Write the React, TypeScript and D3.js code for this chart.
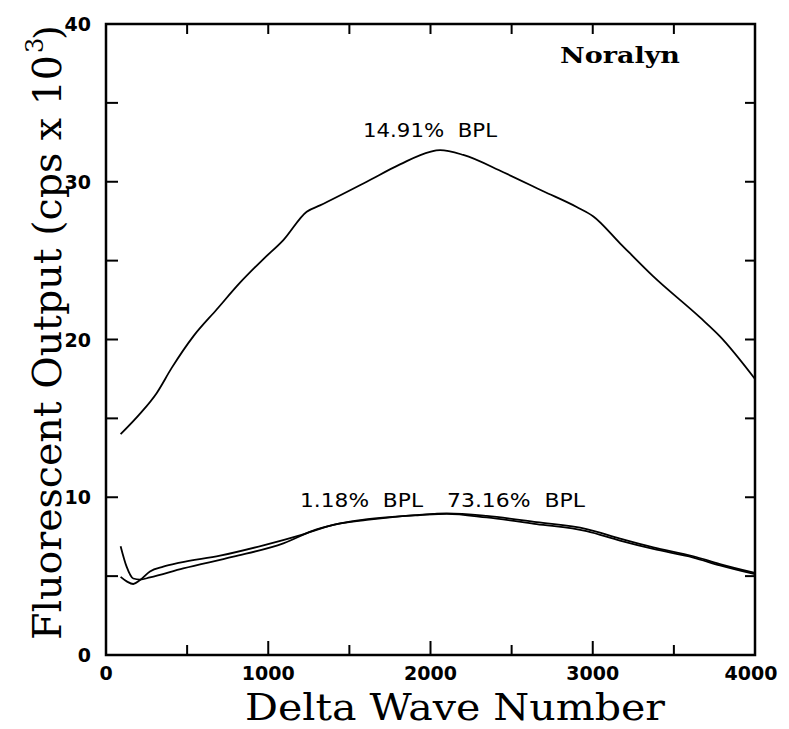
import React from 'react';
import { scaleLinear, line, curveMonotoneX, range } from 'd3';

const width = 789;
const height = 729;
const margin = { left: 106, right: 34, top: 24, bottom: 74 };

// delta wave number vs fluorescent output (cps x 1000)
const bpl1491X = [90, 210, 312, 405, 538, 682, 826, 970, 1093, 1237, 1319, 1607, 1812, 1997, 2059, 2202, 2449, 2695, 2901, 3004, 3168, 3373, 3661, 3784, 4000];
const bpl1491Y = [14.0, 15.3, 16.6, 18.2, 20.2, 21.9, 23.6, 25.1, 26.3, 28.1, 28.5, 30.0, 31.1, 31.9, 32.0, 31.7, 30.6, 29.4, 28.4, 27.8, 26.1, 24.0, 21.4, 20.2, 17.5];

const bpl118X = [90, 130, 168, 210, 271, 353, 456, 703, 970, 1200, 1401, 1607, 2017, 2100, 2346, 2654, 2962, 3168, 3373, 3620, 3784, 4000];
const bpl118Y = [4.95, 4.65, 4.5, 4.75, 5.3, 5.6, 5.85, 6.3, 6.95, 7.6, 8.25, 8.56, 8.94, 8.98, 8.82, 8.42, 7.98, 7.38, 6.82, 6.26, 5.76, 5.2];

const bpl7316X = [90, 127, 168, 210, 271, 476, 785, 1093, 1298, 1442, 1600, 1935, 2100, 2346, 2654, 2962, 3168, 3373, 3620, 3784, 4000];
const bpl7316Y = [6.9, 5.6, 4.85, 4.78, 4.92, 5.49, 6.23, 7.08, 7.97, 8.35, 8.6, 8.87, 8.95, 8.72, 8.3, 7.85, 7.25, 6.72, 6.18, 5.68, 5.12];

const xTickLabels = [0, 1000, 2000, 3000, 4000];
const yTickLabels = [0, 10, 20, 30, 40];

const curves = [
  { xs: bpl1491X, ys: bpl1491Y },
  { xs: bpl118X, ys: bpl118Y },
  { xs: bpl7316X, ys: bpl7316Y },
];

const x = scaleLinear().domain([0, 4000]).range([margin.left, width - margin.right]);
const y = scaleLinear().domain([0, 40]).range([height - margin.bottom, margin.top]);

const mono = "'DejaVu Serif', serif";
const tickFont = "'DejaVu Sans', sans-serif";

export default function App() {
  const path = line<[number, number]>()
    .x(d => x(d[0]))
    .y(d => y(d[1]))
    .curve(curveMonotoneX);

  const x0 = x(0), x1 = x(4000), y0 = y(0), y1 = y(40);
  const xMinor = range(0, 4001, 500);
  const yMinor = range(0, 41, 5);

  return (
    <svg width={width} height={height} style={{ position: 'absolute', left: 0, top: 0, background: '#fff' }}>
      {/* ticks, inward on all four sides */}
      <g stroke="#000" strokeWidth={2}>
        {xMinor.map(v => {
          const len = v % 1000 === 0 ? 14 : 10;
          return (
            <g key={'xt' + v}>
              <line x1={x(v)} x2={x(v)} y1={y0} y2={y0 - len} />
              <line x1={x(v)} x2={x(v)} y1={y1} y2={y1 + 10} />
            </g>
          );
        })}
        {yMinor.map(v => (
          <g key={'yt' + v}>
            <line x1={x0} x2={x0 + 12} y1={y(v)} y2={y(v)} />
            <line x1={x1} x2={x1 - 10} y1={y(v)} y2={y(v)} />
          </g>
        ))}
      </g>
      <rect x={x0} y={y1} width={x1 - x0} height={y0 - y1} fill="none" stroke="#000" strokeWidth={2.5} />

      {curves.map((c, i) => (
        <path key={i} d={path(c.xs.map((v, j) => [v, c.ys[j]] as [number, number])) || ''}
          fill="none" stroke="#000" strokeWidth={1.8} />
      ))}

      {/* tick labels */}
      <g fontFamily={tickFont} fontWeight="bold" fontSize={19} fill="#000">
        {xTickLabels.map(v => (
          <text key={'xl' + v} x={x(v) - (v === 4000 ? 4 : 0)} y={680} textAnchor="middle">{v}</text>
        ))}
        {yTickLabels.map(v => (
          <text key={'yl' + v} x={91} y={y(v) + 7} textAnchor="end">{v}</text>
        ))}
      </g>

      {/* axis titles */}
      <text x={245} y={720} fontFamily={mono} fontSize={37} textLength={420} lengthAdjust="spacingAndGlyphs">
        Delta Wave Number
      </text>
      <g transform="translate(61,640) rotate(-90)" fontFamily={mono}>
        <text x={0} y={0} fontSize={40} textLength={585} lengthAdjust="spacingAndGlyphs">
          Fluorescent Output (cps x 10
        </text>
        <text x={587} y={-18} fontSize={24}>3</text>
        <text x={600} y={0} fontSize={38} fill="#000">)</text>
      </g>

      {/* annotations */}
      <text x={560} y={63} fontFamily={mono} fontWeight="bold" fontSize={23} textLength={120} lengthAdjust="spacingAndGlyphs">
        Noralyn
      </text>
      <g fontFamily={tickFont} fontSize={19}>
        <text x={363} y={137} textLength={134} lengthAdjust="spacingAndGlyphs">{'14.91%\u00a0\u00a0BPL'}</text>
        <text x={300} y={507} textLength={123} lengthAdjust="spacingAndGlyphs">{'1.18%\u00a0\u00a0BPL'}</text>
        <text x={447} y={507} textLength={138} lengthAdjust="spacingAndGlyphs">{'73.16%\u00a0\u00a0BPL'}</text>
      </g>
    </svg>
  );
}
